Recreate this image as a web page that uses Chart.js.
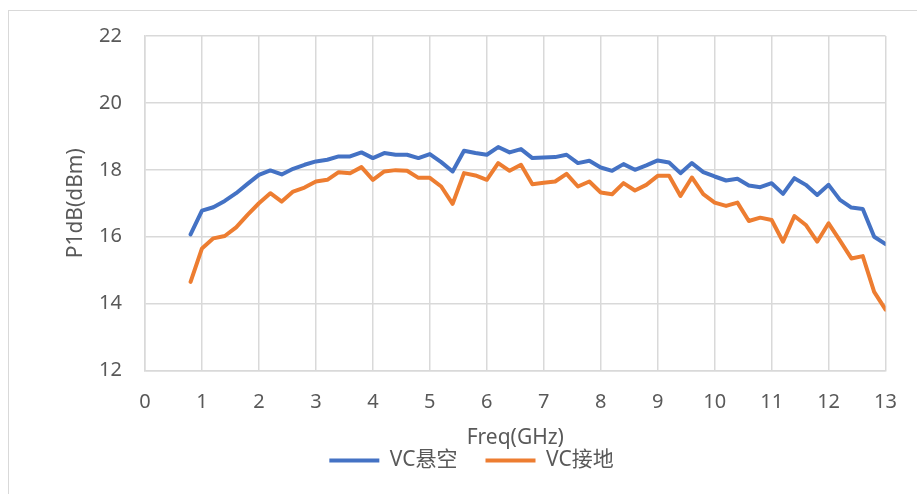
<!DOCTYPE html>
<html>
<head>
<meta charset="utf-8">
<script src="https://cdn.jsdelivr.net/npm/chart.js@4/dist/chart.umd.min.js"></script>
<style>
  html, body { margin: 0; padding: 0; background: #fff; }
  .frame { position: absolute; left: 8px; top: 10px; right: -2px; bottom: -2px; border: 1px solid #d9d9d9; }
  .wrap { position: absolute; left: 0; top: 0; width: 917px; height: 494px; }
</style>
</head>
<body>
<div class="frame"></div>
<div class="wrap"><canvas id="chart" width="917" height="494"></canvas></div>
<script>
// frequency points (GHz)
const FREQ = [0.8, 1.0, 1.2, 1.4, 1.6, 1.8, 2.0, 2.2, 2.4, 2.6, 2.8, 3.0, 3.2, 3.4, 3.6, 3.8, 4.0, 4.2, 4.4, 4.6, 4.8,
  5.0, 5.2, 5.4, 5.6, 5.8, 6.0, 6.2, 6.4, 6.6, 6.8, 7.0, 7.2, 7.4, 7.6, 7.8, 8.0, 8.2, 8.4, 8.6, 8.8,
  9.0, 9.2, 9.4, 9.6, 9.8, 10.0, 10.2, 10.4, 10.6, 10.8, 11.0, 11.2, 11.4, 11.6, 11.8, 12.0, 12.2, 12.4, 12.6, 12.8, 13.0];

// P1dB, VC floating
const VC_FLOAT = [16.07, 16.78, 16.88, 17.07, 17.30, 17.58, 17.85, 17.98, 17.86, 18.03, 18.15, 18.25, 18.30, 18.40, 18.40, 18.52, 18.35, 18.50, 18.45, 18.45, 18.35,
  18.47, 18.23, 17.95, 18.57, 18.50, 18.45, 18.68, 18.52, 18.62, 18.35, 18.37, 18.38, 18.45, 18.20, 18.27, 18.07, 17.97, 18.17, 18.00, 18.13,
  18.28, 18.22, 17.90, 18.20, 17.93, 17.80, 17.68, 17.73, 17.53, 17.48, 17.60, 17.28, 17.75, 17.55, 17.25, 17.55, 17.10, 16.87, 16.83, 16.00, 15.78];

// P1dB, VC grounded
const VC_GND = [14.65, 15.65, 15.95, 16.02, 16.28, 16.65, 17.00, 17.30, 17.05, 17.35, 17.47, 17.65, 17.70, 17.93, 17.90, 18.08, 17.70, 17.95, 17.99, 17.97, 17.76,
  17.76, 17.50, 16.98, 17.90, 17.83, 17.70, 18.20, 17.97, 18.15, 17.57, 17.61, 17.65, 17.88, 17.50, 17.65, 17.32, 17.27, 17.60, 17.38, 17.55,
  17.82, 17.82, 17.22, 17.77, 17.27, 17.02, 16.92, 17.02, 16.47, 16.57, 16.50, 15.85, 16.62, 16.35, 15.85, 16.40, 15.88, 15.35, 15.42, 14.35, 13.82];

const SERIES_NAMES = ["VC悬空", "VC接地"];
const X_RANGE = [0, 13];
const Y_RANGE = [12, 22];

const TEXT = "#595959";
const GRID = "#d9d9d9";
const FONT = "'Noto Sans', 'Noto Sans CJK SC', sans-serif";

const toPts = (ys) => ys.map((y, i) => ({ x: FREQ[i], y }));

const lineStyle = (color) => ({
  borderColor: color,
  backgroundColor: color,
  borderWidth: 4,
  pointRadius: 0,
  borderCapStyle: "round",
  borderJoinStyle: "round",
  tension: 0,
  fill: false,
});

new Chart(document.getElementById("chart"), {
  type: "line",
  data: {
    datasets: [
      { label: SERIES_NAMES[0], data: toPts(VC_FLOAT), ...lineStyle("#4472c4") },
      { label: SERIES_NAMES[1], data: toPts(VC_GND), ...lineStyle("#ed7d31") },
    ],
  },
  options: {
    responsive: false,
    animation: false,
    layout: { padding: { left: 56, right: 30, top: 36, bottom: 13 } },
    plugins: {
      tooltip: { enabled: false },
      legend: {
        position: "bottom",
        labels: {
          color: TEXT,
          font: { family: FONT, size: 21 },
          usePointStyle: true,
          pointStyle: "line",
          pointStyleWidth: 50,
          padding: 28,
        },
      },
    },
    scales: {
      x: {
        type: "linear",
        min: X_RANGE[0],
        max: X_RANGE[1],
        afterFit: (s) => { s.height = 51.5; },
        ticks: { stepSize: 1, color: TEXT, font: { family: FONT, size: 20 }, padding: 20, maxRotation: 0 },
        grid: { color: GRID, lineWidth: 1.5, drawTicks: false },
        border: { color: GRID, width: 1.5 },
        title: { display: true, text: "Freq(GHz)", color: TEXT, font: { family: FONT, size: 21 }, padding: { top: 0, bottom: -29 } },
      },
      y: {
        min: Y_RANGE[0],
        max: Y_RANGE[1],
        afterFit: (s) => { s.width = 89; },
        ticks: { stepSize: 2, color: TEXT, font: { family: FONT, size: 20 }, padding: 23 },
        grid: { color: GRID, lineWidth: 1.5, drawTicks: false },
        border: { color: GRID, width: 1.5 },
        title: { display: true, text: "P1dB(dBm)", color: TEXT, font: { family: FONT, size: 21 }, padding: { top: 7, bottom: 0 } },
      },
    },
  },
});
</script>
</body>
</html>
